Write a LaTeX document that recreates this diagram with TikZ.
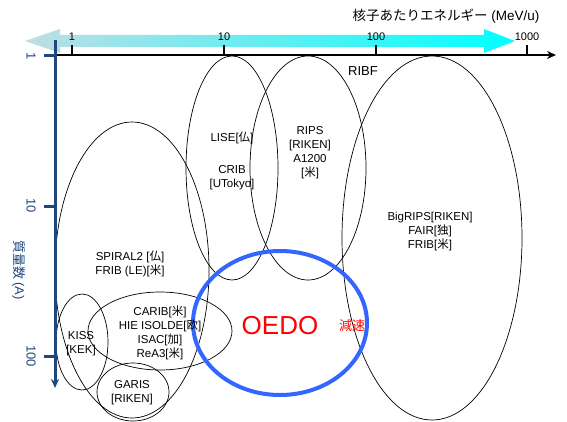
\documentclass[tikz,border=0pt]{standalone}
\usepackage{fontspec}
\setmainfont{Liberation Sans}
\newfontfamily\jp{Noto Sans CJK JP}
\usetikzlibrary{arrows.meta}
\definecolor{axblue}{RGB}{31,73,125}
\definecolor{oedoblue}{RGB}{51,102,255}
\definecolor{cyanL}{RGB}{190,222,228}
\definecolor{cyanR}{RGB}{0,255,255}
\begin{document}
\begin{tikzpicture}[x=1pt,y=-1pt,
  lbl/.style={font=\fontsize{11.5}{13}\selectfont, align=center, inner sep=0pt},
  ell/.style={draw=black, line width=0.7pt},
  tlbl/.style={font=\fontsize{11}{13}\selectfont, inner sep=0pt},
  ylbl/.style={font=\fontsize{13}{15}\selectfont, text=axblue, rotate=-90, inner sep=0pt}]
\useasboundingbox (0,0) rectangle (567,422);
% energy arrow band
\shade[left color=cyanL, right color=cyanR]
  (25,41) -- (60,29) -- (60,35) -- (484,35) -- (484,29) -- (515,41)
  -- (484,53) -- (484,47) -- (60,47) -- (60,53) -- cycle;
% ellipses
\draw[ell] (132,270) ellipse [x radius=77, y radius=148];
\draw[ell] (82,342) ellipse [x radius=26, y radius=48];
\draw[ell] (160,331) ellipse [x radius=72, y radius=39];
\draw[ell] (133,392) ellipse [x radius=36, y radius=29];
\draw[ell] (232,168) ellipse [x radius=46, y radius=112];
\draw[ell] (308,168) ellipse [x radius=58, y radius=112];
\draw[ell] (432,238) ellipse [x radius=90, y radius=182];
\draw[oedoblue, line width=4pt] (280,323) ellipse [x radius=87, y radius=72];
% axes
\coordinate (xs) at (53,55);
\coordinate (xe) at (556,55);
\coordinate (ys) at (55,40);
\coordinate (ye) at (55,388);
\draw[line width=2.5pt, -{Stealth[length=9pt,width=8pt]}] (xs) -- (xe);
\foreach \x/\t in {72/1,224/10,376/100,527/1000}{
  \draw[line width=2.5pt] (\x,45) -- (\x,55);
  \node[tlbl] (xt\t) at (\x,37) {\t};
}
\draw[axblue, line width=3pt, -{Stealth[length=9pt,width=8pt]}] (ys) -- (ye);
\foreach \y/\t in {56/1,206/10,356/100}{
  \draw[axblue, line width=3pt] (44,\y) -- (55,\y);
  \node[ylbl] (yt\t) at (31,\y) {\t};
}
\node[ylbl] (ytitle) at (19,270) {{\jp 質量数} (A)};
\node[font=\fontsize{13.5}{15}\selectfont, inner sep=0pt] (xtitle) at (446,16) {{\jp 核子あたりエネルギー} (MeV/u)};
% labels
\node[font=\fontsize{13}{15}\selectfont, inner sep=0pt] (ribf) at (363,71) {RIBF};
\node[lbl] (lise) at (232,138) {LISE[{\jp 仏}]};
\node[lbl] (crib) at (232,178) {CRIB\\[1pt][UTokyo]};
\node[lbl] (rips) at (310,153) {RIPS\\[1pt][RIKEN]\\[1pt]A1200\\[1pt][{\jp 米}]};
\node[lbl] (bigrips) at (430,232) {BigRIPS[RIKEN]\\[1pt]FAIR[{\jp 独}]\\[1pt]FRIB[{\jp 米}]};
\node[lbl] (spiral) at (130,264) {SPIRAL2 [{\jp 仏}]\\[1pt]FRIB (LE)[{\jp 米}]};
\node[lbl] (carib) at (160,333) {CARIB[{\jp 米}]\\[1pt]HIE ISOLDE[{\jp 欧}]\\[1pt]ISAC[{\jp 加}]\\[1pt]ReA3[{\jp 米}]};
\node[lbl] (kiss) at (81,344) {KISS\\[1pt][KEK]};
\node[lbl] (garis) at (132,393) {GARIS\\[1pt][RIKEN]};
\node[font=\fontsize{26}{28}\selectfont, text=red, inner sep=0pt] (oedo) at (280,326) {OEDO};
\node[font=\fontsize{13}{15}\selectfont, text=red, inner sep=0pt] (gensoku) at (352,326) {\jp 減速};
\end{tikzpicture}
\end{document}
